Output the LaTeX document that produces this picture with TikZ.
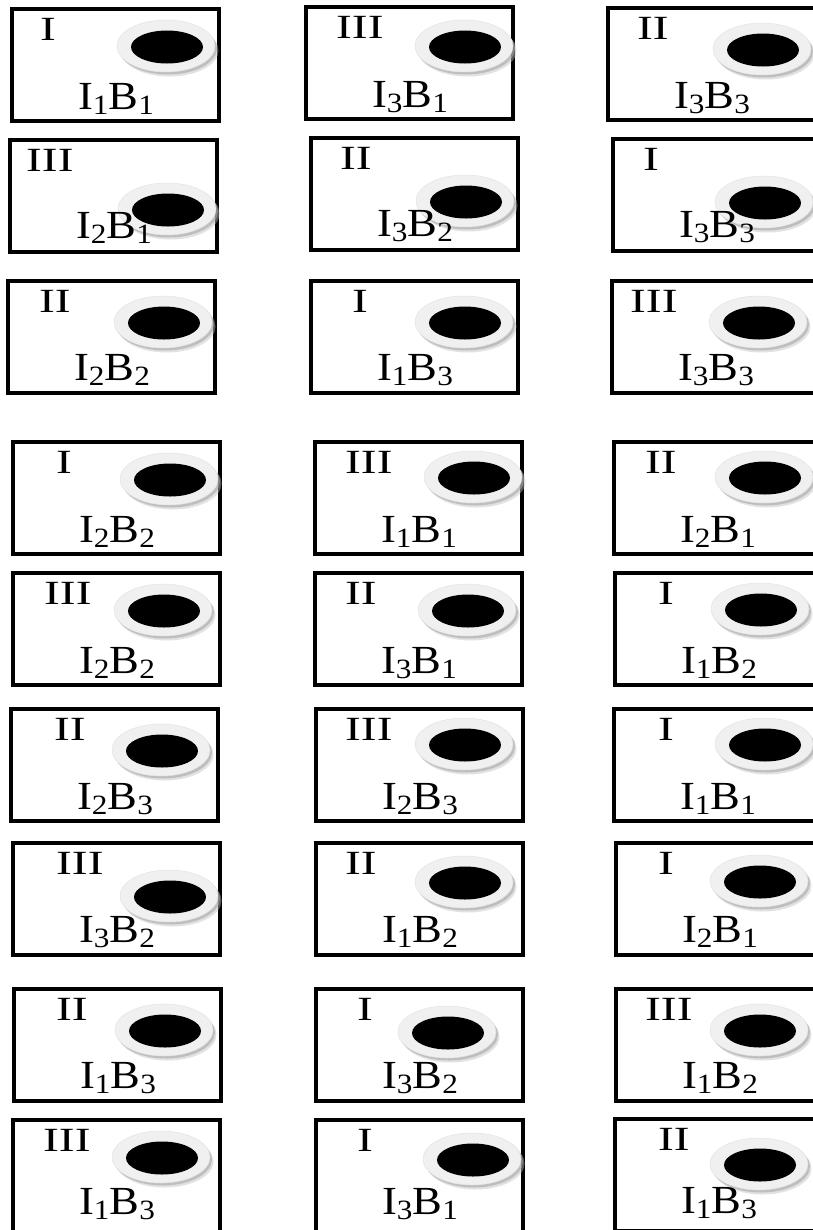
\documentclass[tikz,border=0pt]{standalone}
\usepackage{fontspec}
\setmainfont{Liberation Serif}
\newfontfamily\numfamily[FakeStretch=1.4]{Liberation Serif}
\newfontfamily\labfamily[FakeStretch=1.12]{Liberation Serif}
\newcommand\numfont{\numfamily\fontsize{34}{36}\selectfont}
\newcommand\labfont{\labfamily\fontsize{40}{42}\selectfont}
\newcommand\lsub[1]{\raisebox{-5bp}{\fontsize{28}{30}\selectfont #1}}
\tikzset{
  cell/.style={draw=black, line width=3.2bp, minimum width=207bp, minimum height=112bp,
    anchor=north west, inner sep=0pt, outer sep=0pt},
  numeral/.style={font=\numfont, anchor=west, inner sep=0pt},
  tag/.style={font=\labfont, anchor=base, inner sep=0pt},
  shadowA/.style={fill=gray!50, fill opacity=0.45},
  shadowB/.style={fill=gray!70, fill opacity=0.6},
  ring/.style={fill=gray!12, draw=gray!22, line width=0.5bp},
  hole/.style={fill=black},
}
\begin{document}
\begin{tikzpicture}[x=1bp, y=-1bp]
\path[use as bounding box, fill=white] (0,0) rectangle (813,1230);
\clip (0,0) rectangle (813,1230);
\foreach \r/\c/\bx/\by/\rn/\nx/\ex/\ey/\ia/\ib/\ly in {
  1/1/12/9/I/28/154/37/1/1/100,
  1/2/306/7/III/30/158/39/3/1/100,
  1/3/608/8/II/29/154/41/3/3/100,
  2/1/10/140/III/16/157/69/2/1/98,
  2/2/311/138/II/29/154/63/3/2/98,
  2/3/613/139/I/30/151/63/3/3/98,
  3/1/8/281/II/31/155/41/2/2/99,
  3/2/311/281/I/41/153/41/1/3/99,
  3/3/612/281/III/18/146/41/3/3/99,
  4/1/13/442/I/43/156/37/2/2/100,
  4/2/315/442/III/30/158/35/1/1/100,
  4/3/614/442/II/31/150/35/2/1/100,
  5/1/13/573/III/31/150/37/2/2/100,
  5/2/315/573/II/30/152/37/3/1/100,
  5/3/615/573/I/43/145/36/1/2/100,
  6/1/11/709/II/43/150/41/2/3/100,
  6/2/316/709/III/29/148/35/2/3/100,
  6/3/614/709/I/44/150/35/1/1/100,
  7/1/13/843/III/43/156/53/3/2/99,
  7/2/316/843/II/29/148/39/1/2/99,
  7/3/616/843/I/42/143/38/2/1/99,
  8/1/14/989/II/42/150/41/1/3/99,
  8/2/316/989/I/41/131/43/3/2/99,
  8/3/616/989/III/29/143/41/1/2/99,
  9/1/13/1120/III/30/148/37/1/3/94,
  9/2/316/1120/I/41/156/39/3/1/94,
  9/3/615/1119/II/43/144/45/1/3/94}
{
  \node[cell] (box-\r-\c) at (\bx,\by) {};
  \fill[shadowA] (\bx+\ex+3.5,\by+\ey+4.5) ellipse [x radius=49bp, y radius=26bp];
  \fill[shadowB] (\bx+\ex+2,\by+\ey+2.5) ellipse [x radius=49bp, y radius=26bp];
  \path[ring] (\bx+\ex,\by+\ey) ellipse [x radius=49bp, y radius=26bp];
  \fill[hole] (\bx+\ex+1,\by+\ey+1) ellipse [x radius=36bp, y radius=16.5bp];
  \node[numeral] (num-\r-\c) at (\bx+\nx,\by+20) {\rn};
  \node[tag] (lab-\r-\c) at (\bx+104,\by+\ly) {I\lsub{\ia}B\lsub{\ib}};
}
\end{tikzpicture}
\end{document}
